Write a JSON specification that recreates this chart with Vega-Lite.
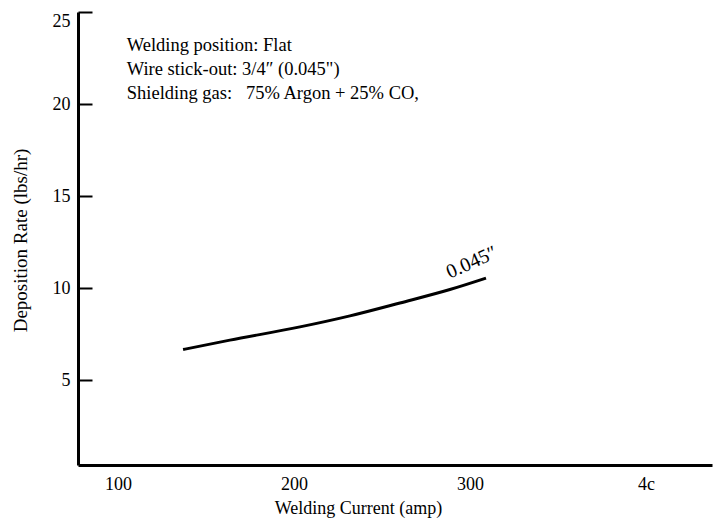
{
  "$schema": "https://vega.github.io/schema/vega-lite/v6.json",
  "width": 634,
  "height": 453,
  "autosize": {"type": "none"},
  "padding": {"left": 78, "top": 12, "right": 4, "bottom": 60},
  "background": "white",
  "config": {
    "view": {"stroke": null},
    "font": "Liberation Serif",
    "axis": {"labelFont": "Liberation Serif", "titleFont": "Liberation Serif", "labelColor": "black", "titleColor": "black", "domainColor": "black", "tickColor": "black", "grid": false, "labelFontSize": 18, "titleFontSize": 18, "titleFontWeight": "normal"},
    "text": {"font": "Liberation Serif"}
  },
  "datasets": {
    "curve": [
      {"current": 137.0, "rate": 6.67},
      {"current": 163.6, "rate": 7.18},
      {"current": 203.4, "rate": 7.9},
      {"current": 231.8, "rate": 8.5},
      {"current": 260.2, "rate": 9.2},
      {"current": 288.6, "rate": 9.93},
      {"current": 309.1, "rate": 10.55}
    ],
    "notes": [
      {"current": 105, "rate": 23.2, "text": "Welding position: Flat"},
      {"current": 105, "rate": 21.9, "text": "Wire stick-out: 3/4″ (0.045\")"},
      {"current": 105, "rate": 20.6, "text": "Shielding gas:\u00a0\u00a0 75% Argon + 25% CO,"}
    ],
    "label": [
      {"current": 301, "rate": 11.4, "text": "0.045″"}
    ]
  },
  "layer": [
    {
      "data": {"name": "curve"},
      "mark": {"type": "line", "color": "black", "strokeWidth": 3, "interpolate": "monotone"},
      "encoding": {
        "x": {"field": "current", "type": "quantitative", "scale": {"domain": [77.3, 437.5], "nice": false, "zero": false},
          "axis": {"values": [100, 200, 300, 400], "labelExpr": "datum.value == 400 ? '4c' : datum.label", "ticks": false, "domainWidth": 3, "labelPadding": 10, "title": "Welding Current (amp)", "titlePadding": 6, "titleX": 280}},
        "y": {"field": "rate", "type": "quantitative", "scale": {"domain": [0.4, 25], "nice": false, "zero": false},
          "axis": {"values": [5, 10, 15, 20, 25], "tickSize": -14, "tickWidth": 2, "domainWidth": 3, "labelPadding": 22, "labelFlush": true, "title": "Deposition Rate (lbs/hr)", "titleFontSize": 19, "titlePadding": 22, "titleY": 228}}
      }
    },
    {
      "data": {"name": "notes"},
      "mark": {"type": "text", "align": "left", "baseline": "middle", "fontSize": 18.5, "font": "Liberation Serif", "color": "black"},
      "encoding": {
        "x": {"field": "current", "type": "quantitative"},
        "y": {"field": "rate", "type": "quantitative"},
        "text": {"field": "text"}
      }
    },
    {
      "data": {"name": "label"},
      "mark": {"type": "text", "align": "center", "baseline": "middle", "fontSize": 20, "font": "Liberation Serif", "color": "black", "angle": -24},
      "encoding": {
        "x": {"field": "current", "type": "quantitative"},
        "y": {"field": "rate", "type": "quantitative"},
        "text": {"field": "text"}
      }
    },
    {
      "mark": {"type": "rule", "color": "black", "strokeWidth": 2},
      "encoding": {"x": {"datum": 77.3}, "x2": {"datum": 437.5}, "y": {"datum": 25}}
    },
    {
      "mark": {"type": "rule", "color": "black", "strokeWidth": 3},
      "encoding": {"x": {"datum": 437.5}, "y": {"datum": -0.8}, "y2": {"datum": 25}}
    }
  ]
}
